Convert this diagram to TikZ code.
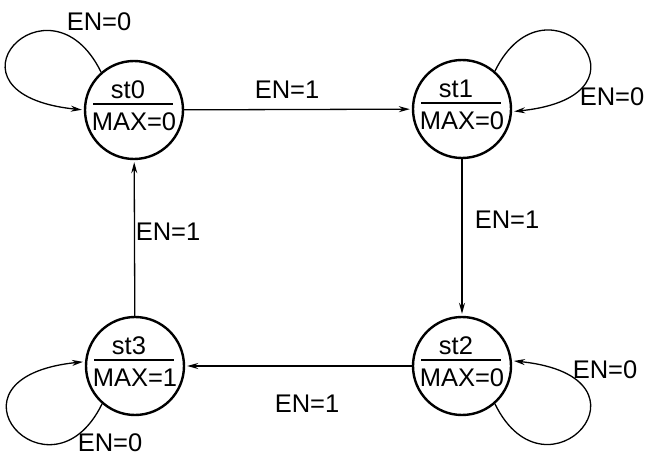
\documentclass[tikz,border=0pt]{standalone}
\usepackage{fontspec}
\setmainfont{Liberation Sans}
\usetikzlibrary{arrows.meta}

\begin{document}
\begin{tikzpicture}[x=1pt, y=1pt,
    state/.style={circle, draw, line width=2.4pt, minimum size=98pt, inner sep=0pt},
    stxt/.style={inner sep=0pt, font=\fontsize{25.5}{30}\selectfont},
    divider/.style={line width=1.2pt},
    trans/.style={line width=1.3pt, -{Stealth[length=11pt,width=6pt]}, shorten >=2pt}]
    \useasboundingbox (0,0) rectangle (646,456);
    \def\fsmstate#1#2#3#4{
      \node[state] (#1) at #2 {};
      \node[stxt] (#1-name) at ([xshift=-6pt,yshift=20pt]#1.center) {#3};
      \node[stxt] (#1-out) at ([yshift=-12pt]#1.center) {#4};
      \draw[divider] ([shift={(-41pt,6pt)}]#1.center) -- ([shift={(39pt,6pt)}]#1.center);
    }
    \fsmstate{st0}{(134,346)}{st0}{MAX=0}
    \fsmstate{st1}{(462,347)}{st1}{MAX=0}
    \fsmstate{st2}{(462,90)}{st2}{MAX=0}
    \fsmstate{st3}{(135,90)}{st3}{MAX=1}
    % transitions between states
    \draw[trans] (st0) -- (st1);
    \draw[trans] (st1) -- (st2);
    \draw[trans] (st2) -- (st3);
    \draw[trans] (st3) -- (st0);
    % self loops
    \draw[trans] (st0.131) .. controls +(-52,106) and +(-155,16) .. (st0.180);
    \draw[trans] (st1.49) .. controls +(52,106) and +(155,16) .. (st1.357);
    \draw[trans] (st2.311) .. controls +(52,-106) and +(155,-16) .. (st2.6);
    \draw[trans] (st3.229) .. controls +(-52,-106) and +(-155,-16) .. (st3.175);
    % labels
    \node[stxt] (l01) at (287,366) {EN=1};
    \node[stxt] (l12) at (507,236) {EN=1};
    \node[stxt] (l23) at (307,52) {EN=1};
    \node[stxt] (l30) at (168,224) {EN=1};
    \node[stxt] (l00) at (99,434) {EN=0};
    \node[stxt] (l11) at (612,359) {EN=0};
    \node[stxt] (l22) at (605,86) {EN=0};
    \node[stxt] (l33) at (110,13) {EN=0};
  \end{tikzpicture}
\end{document}
